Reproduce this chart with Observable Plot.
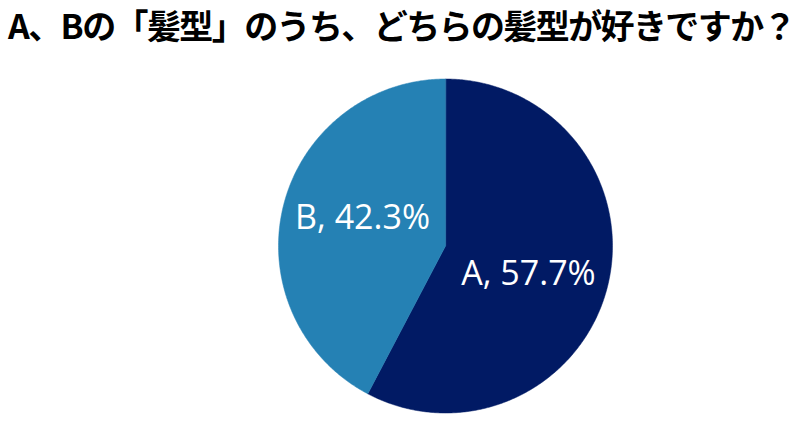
<!DOCTYPE html>
<html>
<head>
<meta charset="utf-8">
<script src="https://cdn.jsdelivr.net/npm/d3@7"></script>
<script src="https://cdn.jsdelivr.net/npm/@observablehq/plot@0.6"></script>
<style>
  html, body { margin: 0; padding: 0; background: #fff; width: 800px; height: 422px; overflow: hidden; }
  #title { height: 46px; font-family: "Noto Sans CJK JP", sans-serif; font-weight: 700; font-size: 34px;
           color: #000; line-height: normal; margin: 0; padding: 0 0 0 8px; white-space: nowrap; letter-spacing: -1.6px; }
  #chart svg { display: block; }
</style>
</head>
<body>
<div id="title">A、Bの「髪型」のうち、どちらの髪型が好きですか？</div>
<div id="chart"></div>
<script>
const categories = ["A", "B"];
const values = [57.7, 42.3];
const labels = ["A, 57.7%", "B, 42.3%"];
const colors = ["#011a64", "#2581b4"];

const pie = d3.pie().sort(null).value(d => d.value)(
  categories.map((c, i) => ({cat: c, value: values[i], label: labels[i]}))
);

// slice outlines in unit-circle data space (angle 0 = 12 o'clock, clockwise)
const pts = [];
for (const s of pie) {
  pts.push({cat: s.data.cat, x: 0, y: 0});
  const n = Math.max(2, Math.ceil((s.endAngle - s.startAngle) / 0.01));
  for (let k = 0; k <= n; k++) {
    const a = s.startAngle + (s.endAngle - s.startAngle) * k / n;
    pts.push({cat: s.data.cat, x: Math.sin(a), y: Math.cos(a)});
  }
}
const labelPts = pie.map(s => {
  const a = (s.startAngle + s.endAngle) / 2 + 0.087;
  return {label: s.data.label, x: 0.525 * Math.sin(a), y: 0.525 * Math.cos(a)};
});

const chart = Plot.plot({
  width: 800,
  height: 376,
  marginLeft: 278,
  marginRight: 188,
  marginTop: 32.5,
  marginBottom: 9.5,
  x: {domain: [-1, 1], axis: null},
  y: {domain: [-1, 1], axis: null},
  color: {domain: categories, range: colors},
  marks: [
    Plot.line(pts, {x: "x", y: "y", z: "cat", fill: "cat", stroke: "cat", strokeWidth: 0.5, curve: "linear-closed"}),
    Plot.text(labelPts, {x: "x", y: "y", text: "label", fill: "white", fontSize: 34,
      fontFamily: "'Open Sans', 'Noto Sans', sans-serif", textAnchor: "middle"})
  ]
});
document.getElementById("chart").appendChild(chart);
</script>
</body>
</html>
